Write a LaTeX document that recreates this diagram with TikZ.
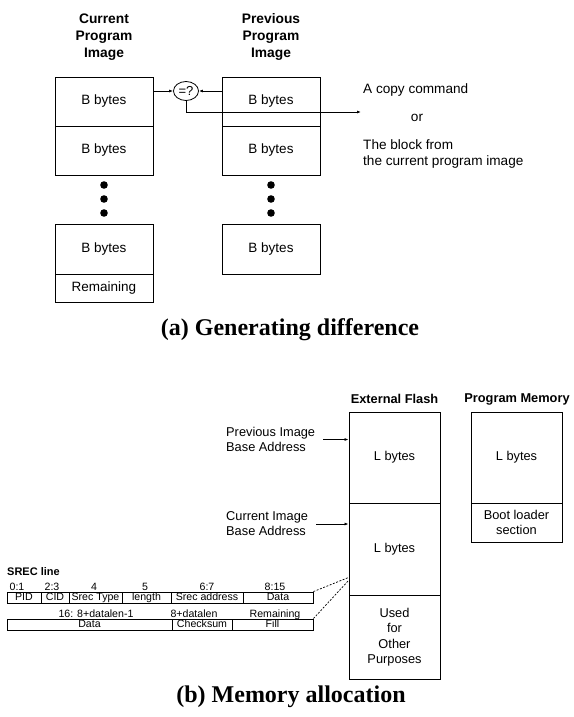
\documentclass[tikz,border=0pt]{standalone}
\usepackage{fontspec}
\setmainfont{Liberation Sans}
\newfontfamily\capfont{Liberation Serif}
\usetikzlibrary{arrows.meta,shapes.geometric}
\begin{document}
\begin{tikzpicture}[x=1pt,y=-1pt,
  box/.style={draw, line width=0.9pt, inner sep=0pt, align=center, font=\fontsize{13.5}{17}\selectfont},
  boxb/.style={draw, line width=0.9pt, inner sep=0pt, align=center, font=\fontsize{12.8}{15.5}\selectfont, minimum width=91pt},
  ttl/.style={inner sep=0pt, align=center, font=\fontsize{13.8}{17}\selectfont\bfseries},
  ttlb/.style={inner sep=0pt, align=center, font=\fontsize{12.8}{15}\selectfont\bfseries},
  txt/.style={inner sep=0pt, align=left, font=\fontsize{13.6}{16.5}\selectfont},
  txtb/.style={inner sep=0pt, align=left, font=\fontsize{12.8}{15}\selectfont},
  dotn/.style={circle, fill, inner sep=0pt, minimum size=7.6pt},
  arr/.style={line width=0.8pt, -{Latex[length=4pt,width=3pt]}},
  cell/.style={draw, line width=0.8pt, inner sep=0pt, minimum height=11pt, font=\fontsize{10.6}{10.6}\selectfont, text height=7.6pt, text depth=2.1pt},
  lab/.style={inner sep=0pt, anchor=base, font=\fontsize{10.6}{10.6}\selectfont},
  capt/.style={inner sep=0pt, font=\fontsize{24}{28}\selectfont\capfont\bfseries},
  dsh/.style={line width=0.7pt, dash pattern=on 2pt off 1.5pt}
]
\useasboundingbox (0,0) rectangle (573,717);

% ---------------- (a) ----------------
\node[ttl] (tcur) at (104,37) {Current\\Program\\Image};
\node[ttl] (tprev) at (271,37) {Previous\\Program\\Image};

\node[box, minimum width=98pt, minimum height=49pt] (cA1) at (104,101.5) {B bytes};
\node[box, minimum width=98pt, minimum height=49pt] (cA2) at (104,150.5) {B bytes};
\node[box, minimum width=98pt, minimum height=50pt] (cA3) at (104,249) {B bytes};
\node[box, minimum width=98pt, minimum height=28pt] (cA4) at (104,288) {Remaining};

\node[box, minimum width=98pt, minimum height=49pt] (pA1) at (271,101.5) {B bytes};
\node[box, minimum width=98pt, minimum height=49pt] (pA2) at (271,150.5) {B bytes};
\node[box, minimum width=98pt, minimum height=50pt] (pA3) at (271,249) {B bytes};

\node[dotn] (cd1) at (104,185) {};
\node[dotn] (cd2) at (104,199) {};
\node[dotn] (cd3) at (104,213) {};
\node[dotn] (pd1) at (271,185) {};
\node[dotn] (pd2) at (271,199) {};
\node[dotn] (pd3) at (271,213) {};

\node[draw, ellipse, line width=0.8pt, inner sep=0pt, minimum width=25pt, minimum height=19pt, font=\fontsize{13}{13}\selectfont] (eq) at (186,91) {=?};

\draw[arr] (cA1.east |- eq.west) -- (eq.west);
\draw[arr] (pA1.west |- eq.east) -- (eq.east);
\coordinate (outp) at (361,112);
\draw[arr] (eq.south) |- (outp);

\node[txt, anchor=west] (tcopy) at (363,90) {A copy command};
\node[txt] (tor) at (417,118) {or};
\node[txt, anchor=north west] (tblock) at (363,139) {The block from\\the current program image};

\node[capt] (capa) at (290,330) {(a) Generating difference};

% ---------------- (b) ----------------
\node[ttlb] (tflash) at (394.5,399) {External Flash};
\node[ttlb] (tprog) at (517,399) {Program Memory};

\node[boxb, minimum height=91pt] (f1) at (394.5,457.5) {L bytes};
\node[boxb, minimum height=92pt] (f2) at (394.5,549) {L bytes};
\node[boxb, minimum height=84pt] (f3) at (394.5,637) {Used\\for\\Other\\Purposes};

\node[boxb, minimum height=91pt] (m1) at (516.5,457.5) {L bytes};
\node[boxb, minimum height=39pt] (m2) at (516.5,522.5) {Boot loader\\section};

\node[txtb, anchor=west] (lprev) at (226,439.5) {Previous Image\\Base Address};
\node[txtb, anchor=west] (lcur) at (226,524) {Current Image\\Base Address};
\draw[arr] ([xshift=8pt]lprev.east) -- (f1.west |- lprev.east);
\draw[arr] ([xshift=8pt]lcur.east) -- (f2.west |- lcur.east);

% SREC line
\node[inner sep=0pt, anchor=west, font=\fontsize{11}{11}\selectfont\bfseries] (srec) at (7,572) {SREC line};

\node[cell, minimum width=34pt] (r1a) at (24,597.5) {PID};
\node[cell, minimum width=28pt] (r1b) at (55,597.5) {CID};
\node[cell, minimum width=53pt] (r1c) at (95.5,597.5) {Srec Type};
\node[cell, minimum width=49pt] (r1d) at (146.5,597.5) {length};
\node[cell, minimum width=72pt] (r1e) at (207,597.5) {Srec address};
\node[cell, minimum width=70pt] (r1f) at (278,597.5) {Data};

\node[lab] (l1a) at (17,590) {0:1};
\node[lab] (l1b) at (52,590) {2:3};
\node[lab] (l1c) at (94,590) {4};
\node[lab] (l1d) at (145,590) {5};
\node[lab] (l1e) at (207,590) {6:7};
\node[lab] (l1f) at (275,590) {8:15};

\node[cell, minimum width=165pt] (r2a) at (89.5,624.5) {Data};
\node[cell, minimum width=60pt] (r2b) at (202,624.5) {Checksum};
\node[cell, minimum width=81pt] (r2c) at (272.5,624.5) {Fill};

\node[lab] (l2a) at (96,617) {16: 8+datalen-1};
\node[lab] (l2b) at (194,617) {8+datalen};
\node[lab] (l2c) at (275,617) {Remaining};

\draw[dsh] (r1f.north east) -- ([yshift=18pt]f2.south west);
\draw[dsh] (r2c.north east) -- ([yshift=15pt]f2.south west);

\node[capt] (capb) at (291,697) {(b) Memory allocation};
\end{tikzpicture}
\end{document}
